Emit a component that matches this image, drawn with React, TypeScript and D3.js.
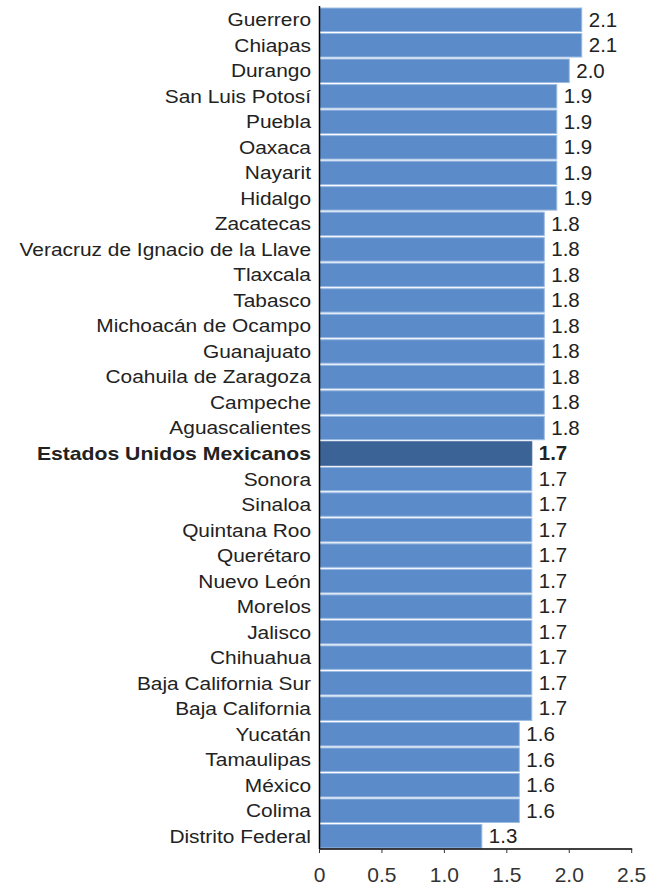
import React from "react";
import * as d3 from "d3";

const states = [
  "Guerrero", "Chiapas", "Durango", "San Luis Potosí", "Puebla", "Oaxaca", "Nayarit", "Hidalgo",
  "Zacatecas", "Veracruz de Ignacio de la Llave", "Tlaxcala", "Tabasco", "Michoacán de Ocampo",
  "Guanajuato", "Coahuila de Zaragoza", "Campeche", "Aguascalientes", "Estados Unidos Mexicanos",
  "Sonora", "Sinaloa", "Quintana Roo", "Querétaro", "Nuevo León", "Morelos", "Jalisco", "Chihuahua",
  "Baja California Sur", "Baja California", "Yucatán", "Tamaulipas", "México", "Colima", "Distrito Federal",
];
const values = [
  2.1, 2.1, 2.0, 1.9, 1.9, 1.9, 1.9, 1.9,
  1.8, 1.8, 1.8, 1.8, 1.8, 1.8, 1.8, 1.8, 1.8, 1.7,
  1.7, 1.7, 1.7, 1.7, 1.7, 1.7, 1.7, 1.7, 1.7, 1.7,
  1.6, 1.6, 1.6, 1.6, 1.3,
];
const highlight = "Estados Unidos Mexicanos";
const xTicks = [0, 0.5, 1.0, 1.5, 2.0, 2.5];
const xTickLabels = ["0", "0.5", "1.0", "1.5", "2.0", "2.5"];

export default function App() {
  const W = 660, H = 886;
  const left = 319.5, right = 631.7, top = 7, bottom = 849;
  const x = d3.scaleLinear().domain([0, 2.5]).range([left, right]);
  const y = d3.scaleBand<string>().domain(states).range([top, bottom]).paddingInner(0.08).paddingOuter(0.04);
  const font = "'Liberation Sans', Arial, sans-serif";
  return (
    <svg width={W} height={H} style={{ position: "absolute", left: 0, top: 0, background: "#fff" }}>
      {states.map((s, i) => {
        const hl = s === highlight;
        const yy = y(s)!;
        const bw = y.bandwidth();
        const cy = yy + bw / 2;
        return (
          <g key={s}>
            <rect x={x(0)} y={yy} width={x(values[i]) - x(0)} height={bw}
              fill={hl ? "#3b6396" : "#5b8bc8"} stroke={hl ? "#3b6396" : "#9cbbe2"} strokeWidth={1} />
            <text transform={`translate(311,${cy}) scale(${hl ? 1.145 : 1.13},1)`} dy="0.35em" textAnchor="end" fontFamily={font} fontSize={18.5}
              fontWeight={hl ? "bold" : "normal"} fill="#222">{s}</text>
            <text transform={`translate(${x(values[i]) + 7},${cy}) scale(1.05,1)`} dy="0.35em" fontFamily={font} fontSize={19.5}
              fontWeight={hl ? "bold" : "normal"} fill="#222">{values[i].toFixed(1)}</text>
          </g>
        );
      })}
      <line x1={left} x2={left} y1={top - 1} y2={bottom} stroke="#000" strokeWidth={1.5} />
      <line x1={left - 0.5} x2={right + 0.5} y1={bottom} y2={bottom} stroke="#000" strokeWidth={1.5} />
      {xTicks.map((t, i) => (
        <g key={t}>
          <line x1={x(t)} x2={x(t)} y1={bottom} y2={bottom + 4} stroke="#333" strokeWidth={1} />
          <text x={x(t)} y={881.5} textAnchor="middle" fontFamily={font} fontSize={21} fill="#333">{xTickLabels[i]}</text>
        </g>
      ))}
    </svg>
  );
}
